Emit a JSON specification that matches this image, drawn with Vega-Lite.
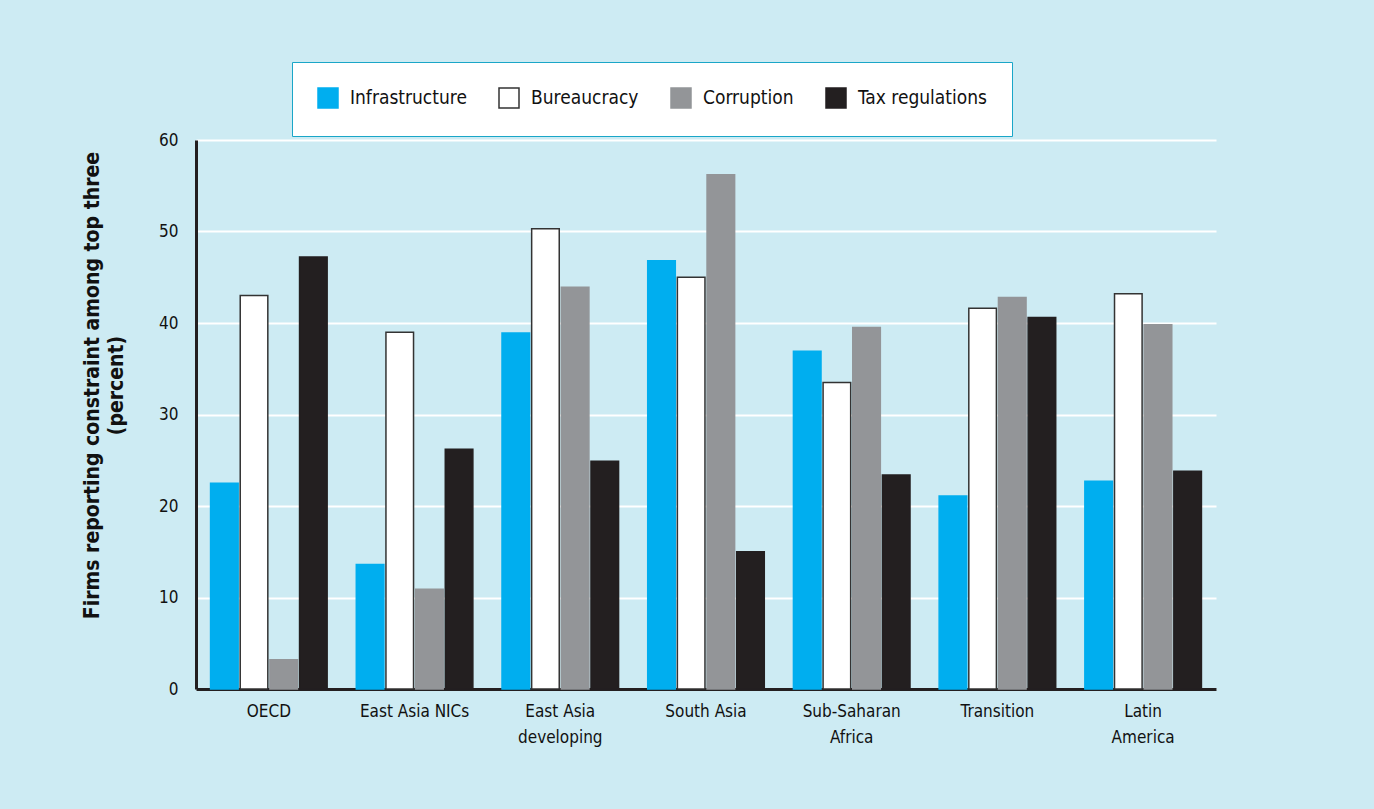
{
  "$schema": "https://vega.github.io/schema/vega-lite/v6.json",
  "width": 1020,
  "height": 549,
  "autosize": "none",
  "padding": {"left": 196, "top": 140, "right": 158, "bottom": 120},
  "background": "#cdebf3",
  "config": {
    "view": {"stroke": null},
    "font": "Liberation Sans Narrow, DejaVu Sans Condensed, sans-serif"
  },
  "data": {
    "values": [
      {"region": "OECD", "constraint": "Infrastructure", "value": 22.5},
      {"region": "OECD", "constraint": "Bureaucracy", "value": 43.0},
      {"region": "OECD", "constraint": "Corruption", "value": 3.2},
      {"region": "OECD", "constraint": "Tax regulations", "value": 47.2},
      {"region": "East Asia NICs", "constraint": "Infrastructure", "value": 13.6},
      {"region": "East Asia NICs", "constraint": "Bureaucracy", "value": 39.0},
      {"region": "East Asia NICs", "constraint": "Corruption", "value": 10.9},
      {"region": "East Asia NICs", "constraint": "Tax regulations", "value": 26.2},
      {"region": "East Asia|developing", "constraint": "Infrastructure", "value": 38.9},
      {"region": "East Asia|developing", "constraint": "Bureaucracy", "value": 50.3},
      {"region": "East Asia|developing", "constraint": "Corruption", "value": 43.9},
      {"region": "East Asia|developing", "constraint": "Tax regulations", "value": 24.9},
      {"region": "South Asia", "constraint": "Infrastructure", "value": 46.8},
      {"region": "South Asia", "constraint": "Bureaucracy", "value": 45.0},
      {"region": "South Asia", "constraint": "Corruption", "value": 56.2},
      {"region": "South Asia", "constraint": "Tax regulations", "value": 15.0},
      {"region": "Sub-Saharan|Africa", "constraint": "Infrastructure", "value": 36.9},
      {"region": "Sub-Saharan|Africa", "constraint": "Bureaucracy", "value": 33.5},
      {"region": "Sub-Saharan|Africa", "constraint": "Corruption", "value": 39.5},
      {"region": "Sub-Saharan|Africa", "constraint": "Tax regulations", "value": 23.4},
      {"region": "Transition", "constraint": "Infrastructure", "value": 21.1},
      {"region": "Transition", "constraint": "Bureaucracy", "value": 41.6},
      {"region": "Transition", "constraint": "Corruption", "value": 42.8},
      {"region": "Transition", "constraint": "Tax regulations", "value": 40.6},
      {"region": "Latin|America", "constraint": "Infrastructure", "value": 22.7},
      {"region": "Latin|America", "constraint": "Bureaucracy", "value": 43.2},
      {"region": "Latin|America", "constraint": "Corruption", "value": 39.8},
      {"region": "Latin|America", "constraint": "Tax regulations", "value": 23.8}
    ]
  },
  "mark": {"type": "bar", "strokeWidth": 1.5},
  "encoding": {
    "x": {
      "field": "region",
      "type": "nominal",
      "sort": null,
      "scale": {"paddingInner": 0.2, "paddingOuter": 0.1},
      "axis": {
        "title": null,
        "labelAngle": 0,
        "labelExpr": "split(datum.label, '|')",
        "labelFontSize": 17,
        "labelColor": "#111111",
        "labelLineHeight": 26,
        "labelPadding": 14,
        "ticks": false,
        "domainColor": "#231f20",
        "domainWidth": 3,
        "grid": false
      }
    },
    "xOffset": {
      "field": "constraint",
      "type": "nominal",
      "sort": ["Infrastructure", "Bureaucracy", "Corruption", "Tax regulations"],
      "scale": {"paddingInner": 0.07}
    },
    "y": {
      "field": "value",
      "type": "quantitative",
      "scale": {"domain": [0, 60], "nice": false},
      "axis": {
        "values": [0, 10, 20, 30, 40, 50, 60],
        "title": ["Firms reporting constraint among top three", "(percent)"],
        "titleFontSize": 21,
        "titleFontWeight": "bold",
        "titleColor": "#111111",
        "titleLineHeight": 24,
        "titleX": -104,
        "titleY": 245,
        "titleAngle": -90,
        "titleAlign": "center",
        "titleBaseline": "middle",
        "labelFontSize": 17,
        "labelColor": "#111111",
        "labelPadding": 18,
        "ticks": false,
        "domainColor": "#231f20",
        "domainWidth": 3,
        "grid": true,
        "gridColor": "#ffffff",
        "gridWidth": 2,
        "gridOpacity": 1
      }
    },
    "color": {
      "field": "constraint",
      "type": "nominal",
      "scale": {
        "domain": ["Infrastructure", "Bureaucracy", "Corruption", "Tax regulations"],
        "range": ["#00aeef", "#ffffff", "#939598", "#231f20"]
      },
      "legend": {
        "title": null,
        "orient": "none",
        "direction": "horizontal",
        "legendX": 96,
        "legendY": -78,
        "fillColor": "#ffffff",
        "strokeColor": "#1aa6c8",
        "padding": 25,
        "symbolType": "square",
        "symbolSize": 400,
        "symbolOpacity": 1,
        "symbolStrokeWidth": 1.5,
        "labelFontSize": 19,
        "labelColor": "#111111",
        "labelOffset": 11,
        "columnPadding": 29
      }
    },
    "stroke": {
      "field": "constraint",
      "type": "nominal",
      "scale": {
        "domain": ["Infrastructure", "Bureaucracy", "Corruption", "Tax regulations"],
        "range": ["#00aeef", "#333333", "#939598", "#231f20"]
      },
      "legend": null
    }
  }
}
